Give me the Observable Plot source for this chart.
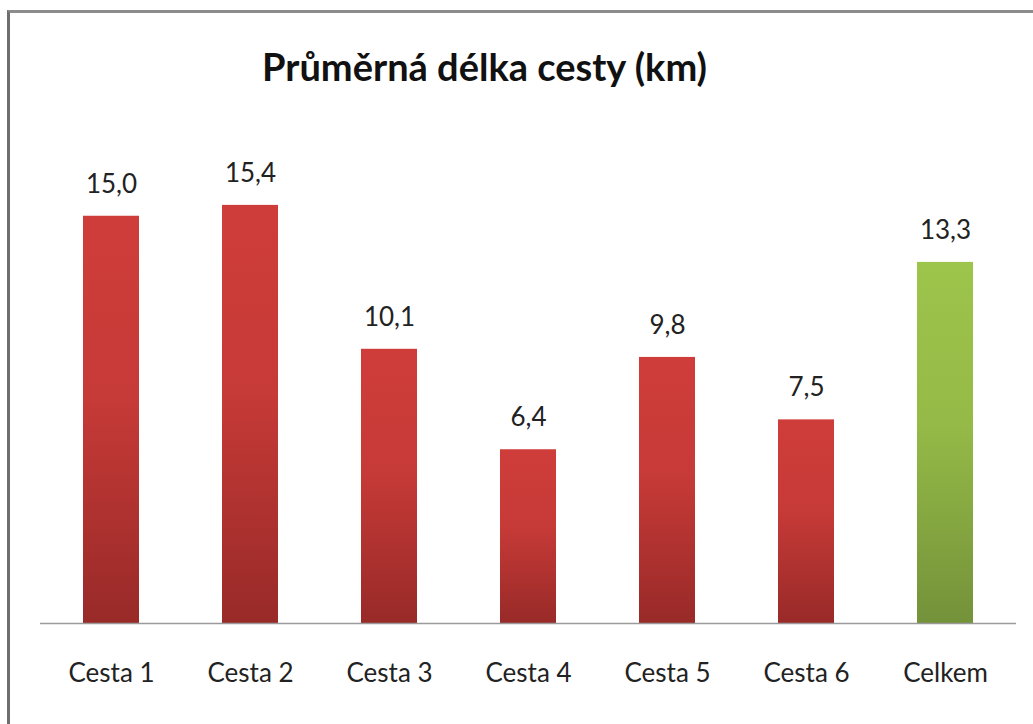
<!DOCTYPE html>
<html>
<head>
<meta charset="utf-8">
<script src="https://cdn.jsdelivr.net/npm/d3@7"></script>
<script src="https://cdn.jsdelivr.net/npm/@observablehq/plot@0.6"></script>
<style>
  html, body { margin: 0; padding: 0; background: #fff; }
  #wrap { position: relative; width: 1033px; height: 724px; overflow: hidden; }
  #frame { position: absolute; left: 7px; top: 10px; width: 1100px; height: 800px;
           border-left: 3px solid #6e6e6e; border-top: 3px solid #8c8c8c; box-sizing: border-box; }
  #chart { position: absolute; left: 0; top: 0; }
  svg { font-family: Lato, "Open Sans", sans-serif; }
</style>
</head>
<body>
<div id="wrap"><div id="frame"></div><div id="chart"></div></div>
<script>
const title = "Průměrná délka cesty (km)";
const categories = ["Cesta 1", "Cesta 2", "Cesta 3", "Cesta 4", "Cesta 5", "Cesta 6", "Celkem"];
const values = [15.0, 15.4, 10.1, 6.4, 9.8, 7.5, 13.3];
const kinds = ["cesta", "cesta", "cesta", "cesta", "cesta", "cesta", "total"];

const data = categories.map((c, i) => ({category: c, value: values[i], kind: kinds[i]}));
const fmt = v => d3.format(".1f")(v).replace(".", ",");

function gradients() {
  const defs = d3.create("svg:defs");
  const add = (id, top, mid, bottom) => {
    const g = defs.append("linearGradient").attr("id", id).attr("x1", 0).attr("y1", 0).attr("x2", 0).attr("y2", 1);
    g.append("stop").attr("offset", "0%").attr("stop-color", top);
    g.append("stop").attr("offset", "45%").attr("stop-color", mid);
    g.append("stop").attr("offset", "100%").attr("stop-color", bottom);
  };
  add("gradRed", "#cf3d3a", "#c63a37", "#982a28");
  add("gradGreen", "#9dc44b", "#95ba47", "#74923a");
  return defs.node();
}

const chart = Plot.plot({
  width: 1033,
  height: 724,
  marginTop: 80,
  marginBottom: 101,
  marginLeft: 40,
  marginRight: 17,
  x: {domain: categories, paddingInner: 0.6, paddingOuter: 0.3, label: null, tickSize: 0, tickPadding: 40},
  y: {domain: [0, 20], axis: null},
  style: {background: "transparent", fontSize: "26px", color: "#222"},
  marks: [
    gradients,
    Plot.barY(data, {x: "category", y: "value",
      fill: d => d.kind === "total" ? "url(#gradGreen)" : "url(#gradRed)"}),
    Plot.ruleY([0], {stroke: "#9a9a9a", strokeWidth: 1.5}),
    Plot.text(data, {x: "category", y: "value", text: d => fmt(d.value), dy: -32,
      fontSize: 26, fill: "#222"}),
    Plot.text([title], {frameAnchor: "top", dy: -26, fontSize: 38, fontWeight: "bold", fill: "#111",
      dx: -44})
  ]
});
chart.querySelectorAll("[aria-label='x-axis tick label'] text").forEach(t => t.setAttribute("fill", "#222"));
document.getElementById("chart").appendChild(chart);
</script>
</body>
</html>
